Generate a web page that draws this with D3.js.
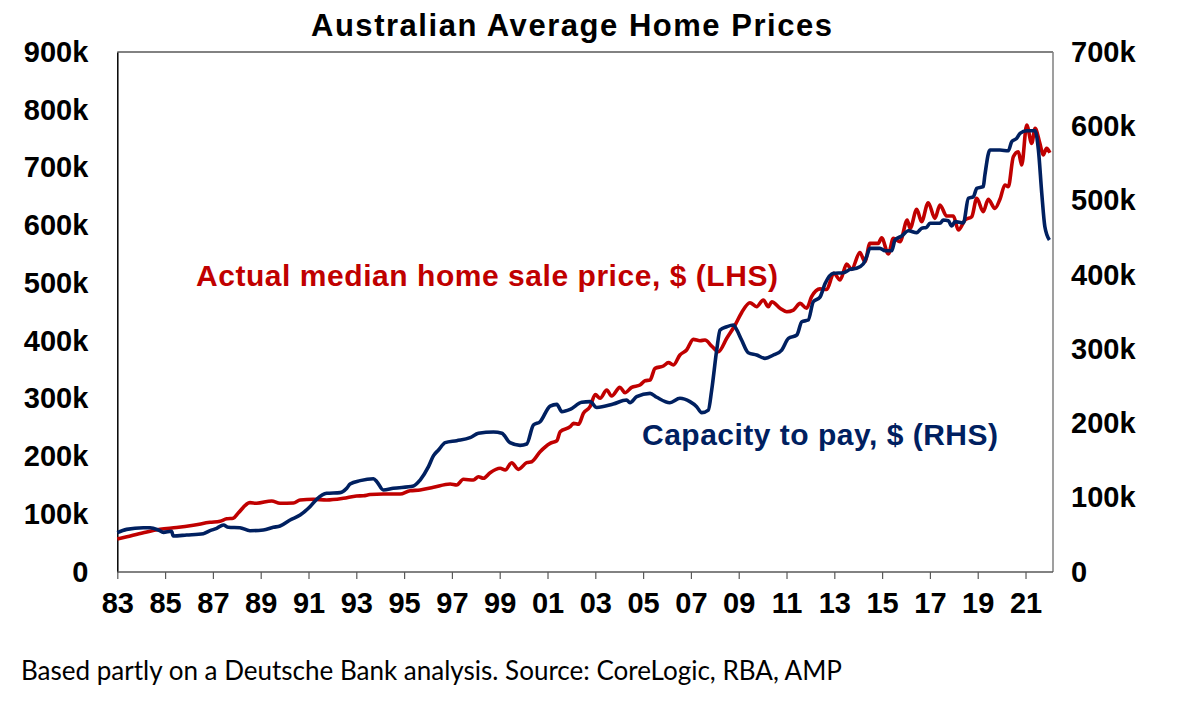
<!DOCTYPE html>
<html>
<head>
<meta charset="utf-8">
<script src="https://cdn.jsdelivr.net/npm/d3@7"></script>
<style>
  html, body { margin: 0; padding: 0; background: #fff; }
  svg { display: block; }
</style>
</head>
<body>
<svg id="chart" width="1183" height="701"></svg>
<script>
// ---------------- DATA ----------------
const titleText = "Australian Average Home Prices";
const footerText = "Based partly on a Deutsche Bank analysis. Source: CoreLogic, RBA, AMP";
const labelLHS = "Actual median home sale price, $ (LHS)";
const labelRHS = "Capacity to pay, $ (RHS)";

const xTickYears = [1983,1985,1987,1989,1991,1993,1995,1997,1999,2001,2003,2005,2007,2009,2011,2013,2015,2017,2019,2021];
const leftTicks = [0,100,200,300,400,500,600,700,800,900];
const rightTicks = [0,100,200,300,400,500,600,700];

// Actual median home sale price ($k, LHS)
const priceYears = [1983.0,1983.4,1984.09,1984.79,1985.48,1986.18,1986.88,1987.3,1987.58,1987.85,1988.06,1988.55,1988.83,1989.46,1989.81,1990.37,1990.65,1991.2,1991.76,1992.46,1993.01,1993.3,1993.57,1994.13,1994.83,1995.25,1995.67,1996.23,1996.93,1997.2,1997.48,1997.9,1998.11,1998.32,1998.6,1999.02,1999.23,1999.5,1999.78,2000.13,2000.34,2000.69,2001.11,2001.39,2001.53,2001.95,2002.09,2002.3,2002.5,2002.78,2003.0,2003.2,2003.48,2003.68,2004.03,2004.24,2004.52,2004.87,2005.08,2005.29,2005.5,2005.85,2006.06,2006.27,2006.54,2006.82,2007.1,2007.38,2007.59,2007.87,2008.15,2008.5,2008.85,2009.12,2009.47,2009.75,2010.03,2010.24,2010.38,2010.73,2011.01,2011.29,2011.57,2011.84,2012.05,2012.4,2012.68,2012.98,2013.24,2013.52,2013.72,2014.07,2014.28,2014.49,2014.84,2014.98,2015.26,2015.47,2015.75,2016.05,2016.17,2016.45,2016.65,2016.93,2017.21,2017.42,2017.7,2017.98,2018.19,2018.47,2018.75,2018.96,2019.23,2019.44,2019.72,2019.93,2020.14,2020.28,2020.49,2020.7,2020.84,2021.05,2021.26,2021.4,2021.6,2021.74,2021.88,2022.02];
const priceValues = [57,61,68,74,77,81,86,88,92,93,102,120,119,123,119,119.5,124.6,125.8,124.6,127.5,131.5,132,134,135,135,140.7,141.9,146.6,152.3,150.6,160.4,159.2,164.9,162.2,171.9,179.5,176.5,189.2,177.7,189.2,190.9,208.2,222.7,227.2,242.8,251.5,257.3,255.6,274.7,286.1,307,300.6,315,304.6,319.6,310.3,319.6,323.6,331,332.3,352.5,356.5,362.3,358.3,375.6,384.2,402.7,400.3,401.5,391.1,381.3,404.5,427.5,448.8,466.1,459.2,470.8,459.2,467.8,456.4,450.5,453.4,465,456.4,476.5,490,489,517,505.4,533,523.8,552.7,537,568.8,568.8,578.6,550.4,577.5,571.7,609.2,594.8,627.7,606.3,639.2,612.1,635.2,616.1,616.1,591.9,609.2,615,646.8,623.6,645,629.4,645,669.8,666.9,718.8,727.4,704.4,773.6,741.9,767.9,741.9,721.7,733.2,725.6];

// Capacity to pay ($k, RHS)
const capacityYears = [1983.0,1983.39,1984.09,1984.37,1984.72,1984.93,1985.27,1985.34,1985.9,1986.6,1986.88,1987.16,1987.44,1987.65,1988.13,1988.55,1989.11,1989.53,1989.81,1990.23,1990.65,1991.06,1991.34,1991.76,1992.32,1992.6,1992.74,1993.16,1993.72,1993.86,1994.13,1994.55,1995.39,1995.67,1996.02,1996.23,1996.44,1996.72,1997.2,1997.76,1998.11,1998.74,1999.09,1999.43,1999.85,2000.13,2000.41,2000.69,2001.11,2001.39,2001.6,2001.95,2002.43,2002.78,2003.06,2003.75,2004.31,2004.45,2004.73,2005.29,2005.57,2006.12,2006.54,2006.96,2007.24,2007.45,2007.73,2007.87,2008.08,2008.22,2008.5,2008.78,2008.92,2009.12,2009.4,2009.75,2010.1,2010.45,2010.8,2011.08,2011.43,2011.64,2011.91,2012.12,2012.4,2012.61,2012.96,2013.38,2013.66,2013.93,2014.21,2014.35,2014.49,2014.91,2015.12,2015.4,2015.54,2015.82,2016.1,2016.45,2016.65,2016.86,2017.0,2017.42,2017.56,2017.77,2017.91,2018.05,2018.4,2018.61,2018.82,2018.96,2019.23,2019.3,2019.51,2019.93,2020.28,2020.42,2020.63,2020.77,2021.05,2021.4,2021.54,2021.68,2021.81,2022.0];
const capacityValues = [52.9,57.4,59.6,59.6,56.5,53.4,54.8,48.5,49.8,51.6,55.6,58.8,63.3,60.2,59.6,55.6,56.5,60.2,61.9,70,76.7,87.9,97.8,105.9,106.8,112.7,118.5,123,125.6,121.6,110.4,112.7,115.7,123.8,141.8,156.6,164.2,174.1,176.8,180.8,186.7,188.5,186.7,174.1,170.5,172.3,197.9,202.3,223.4,225.7,215.8,219,228.4,229.3,221.5,226.1,231.5,227.9,236,240.5,235.2,227.9,233.8,229.3,222.5,214.5,218,245,298.8,325.8,330.2,332.5,325.8,312.3,295.2,292.1,287.6,292.1,298.8,314.6,319,336.9,339.2,363.8,370,388,402.1,402.9,407.4,408.8,414.6,424.4,435.7,435.7,432.5,432.5,446.9,452.3,459.4,456.8,462.6,464,469.4,469.4,473.8,473,465.7,471.6,470,503,505.2,516.5,518.7,534.4,568,568,567,579.2,583.8,590.5,594,594,568,509.8,464.8,446.9];

// ---------------- CHART ----------------
const svg = d3.select("#chart");
const plot = { left: 117.3, right: 1053, top: 52, bottom: 572 };
const boldFont = "'Liberation Sans', Arial, sans-serif";

const x = d3.scaleLinear().domain([1983, 2022.15]).range([plot.left, plot.right]);
const yL = d3.scaleLinear().domain([0, 900]).range([plot.bottom, plot.top]);
const yR = d3.scaleLinear().domain([0, 700]).range([plot.bottom, plot.top]);

// Frame: top and right in grey
svg.append("line").attr("x1", plot.left).attr("x2", plot.right).attr("y1", plot.top).attr("y2", plot.top)
  .attr("stroke", "#595959").attr("stroke-width", 1.5);
svg.append("line").attr("x1", plot.right).attr("x2", plot.right).attr("y1", plot.top).attr("y2", plot.bottom)
  .attr("stroke", "#7f7f7f").attr("stroke-width", 1.5);

// Left axis
const gL = svg.append("g").attr("transform", `translate(${plot.left},0)`)
  .call(d3.axisLeft(yL).tickValues(leftTicks).tickSize(0).tickPadding(29)
    .tickFormat(d => d === 0 ? "0" : d + "k"));
gL.select(".domain").attr("stroke", "#000").attr("stroke-width", 1.5);

// Right axis
const gR = svg.append("g").attr("transform", `translate(${plot.right},0)`)
  .call(d3.axisRight(yR).tickValues(rightTicks).tickSize(0).tickPadding(18)
    .tickFormat(d => d === 0 ? "0" : d + "k"));
gR.select(".domain").remove();

// Bottom axis
const gB = svg.append("g").attr("transform", `translate(0,${plot.bottom})`)
  .call(d3.axisBottom(x).tickValues(xTickYears).tickSize(7).tickPadding(13)
    .tickFormat(d => String(d).slice(2)));
gB.select(".domain").attr("d", `M${plot.left},0H${plot.right}`).attr("stroke", "#595959").attr("stroke-width", 1.5);
gB.selectAll(".tick line").attr("stroke", "#595959").attr("stroke-width", 1.2);

[gL, gR, gB].forEach(g => {
  g.selectAll("text").attr("font-family", boldFont).attr("font-weight", "bold")
    .attr("font-size", 29).attr("fill", "#000");
  g.attr("font-family", null).attr("font-size", null);
});

// Lines
const priceData = priceYears.map((t, i) => ({ t, v: priceValues[i] }));
const capData = capacityYears.map((t, i) => ({ t, v: capacityValues[i] }));

svg.append("path").datum(priceData)
  .attr("fill", "none").attr("stroke", "#C00000").attr("stroke-width", 3.6)
  .attr("stroke-linejoin", "round")
  .attr("d", d3.line().x(d => x(d.t)).y(d => yL(d.v)).curve(d3.curveMonotoneX));

svg.append("path").datum(capData)
  .attr("fill", "none").attr("stroke", "#002060").attr("stroke-width", 3.6)
  .attr("stroke-linejoin", "round")
  .attr("d", d3.line().x(d => x(d.t)).y(d => yR(d.v)).curve(d3.curveMonotoneX));

// Title
svg.append("text").attr("x", 311).attr("y", 36)
  .attr("font-family", boldFont).attr("font-weight", "bold").attr("font-size", 31)
  .attr("textLength", 521).attr("lengthAdjust", "spacing")
  .attr("fill", "#000").text(titleText);

// Series labels
svg.append("text").attr("x", 196).attr("y", 286)
  .attr("font-family", boldFont).attr("font-weight", "bold").attr("font-size", 30)
  .attr("textLength", 582).attr("lengthAdjust", "spacing")
  .attr("fill", "#C00000").text(labelLHS);

svg.append("text").attr("x", 642).attr("y", 445)
  .attr("font-family", boldFont).attr("font-weight", "bold").attr("font-size", 30)
  .attr("textLength", 356).attr("lengthAdjust", "spacing")
  .attr("fill", "#002060").text(labelRHS);

// Footer
svg.append("text").attr("x", 21).attr("y", 680)
  .attr("font-family", "Lato, 'Open Sans', sans-serif").attr("font-size", 26)
  .attr("textLength", 821).attr("lengthAdjust", "spacingAndGlyphs")
  .attr("fill", "#000").text(footerText);
</script>
</body>
</html>
